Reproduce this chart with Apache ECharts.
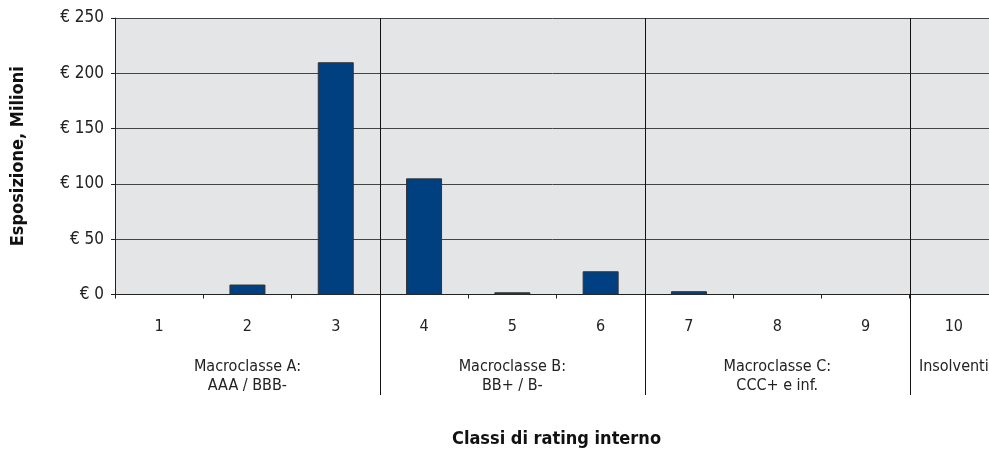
<!DOCTYPE html>
<html><head><meta charset="utf-8">
<script src="https://cdn.jsdelivr.net/npm/echarts@6/dist/echarts.min.js"></script>
<style>html,body{margin:0;padding:0;background:#fff}#c{width:989px;height:450px}</style>
</head><body><div id="c"></div>
<script>
const categories = ['1','2','3','4','5','6','7','8','9','10'];
const exposure = [0, 9, 210, 105, 2, 21, 3, 0, 0, 0];
const yTicks = [0, 50, 100, 150, 200, 250];
const groupNames = ['Macroclasse A:\nAAA / BBB-', 'Macroclasse B:\nBB+ / B-', 'Macroclasse C:\nCCC+ e inf.', 'Insolventi'];
const groupFirst = [1, 4, 7, 10];
const groupLast = [3, 6, 9, 10];

const FONT = '"Liberation Sans Narrow", "DejaVu Sans Condensed", "Liberation Sans", sans-serif';
const chart = echarts.init(document.getElementById('c'));

const dividers = groupLast.slice(0, -1).map(v => [v]);
const groupData = groupNames.map((n, i) => [(groupFirst[i] - 1 + groupLast[i]) / 2, n]);
const barData = exposure.map(v => v === 0 ? { value: v, itemStyle: { borderWidth: 0 } } : v);

chart.setOption({
  animation: false,
  grid: { left: 115, top: 18, width: 883, height: 276.5, show: true, backgroundColor: '#e4e5e7', borderWidth: 0, outerBoundsMode: 'none', containLabel: false },
  xAxis: [{
    type: 'category', data: categories,
    axisLine: { show: true, lineStyle: { color: '#222', width: 1 } },
    axisTick: { show: true, length: 4, lineStyle: { color: '#222' } },
    axisLabel: { color: '#222', fontFamily: FONT, fontSize: 16, margin: 24 },
    name: 'Classi di rating interno', nameLocation: 'middle', nameGap: 136,
    nameTextStyle: { fontFamily: FONT, fontWeight: 'bold', fontSize: 18, color: '#111' }
  }, {
    type: 'value', min: 0, max: 10, show: false
  }],
  yAxis: {
    type: 'value', min: yTicks[0], max: yTicks[yTicks.length - 1], interval: 50,
    axisLine: { show: true, lineStyle: { color: '#222' } },
    axisTick: { show: true, length: 4, lineStyle: { color: '#222' } },
    splitLine: { show: true, lineStyle: { color: '#444', width: 1 } },
    axisLabel: { formatter: v => '€ ' + v, color: '#222', fontFamily: FONT, fontSize: 17, margin: 11 },
    name: 'Esposizione, Milioni', nameLocation: 'middle', nameRotate: 90, nameGap: 88,
    nameTextStyle: { fontFamily: FONT, fontWeight: 'bold', fontSize: 18, color: '#111' }
  },
  series: [{
    type: 'bar', data: barData, barWidth: 36, xAxisIndex: 0,
    itemStyle: { color: '#003f80', borderColor: '#333', borderWidth: 1 }
  }, {
    type: 'custom', xAxisIndex: 1, clip: false, silent: true, z: 5,
    data: dividers,
    renderItem: (params, api) => {
      const top = api.coord([api.value(0), 250]);
      const bot = api.coord([api.value(0), 0]);
      const x = Math.round(top[0]) + 0.5;
      return { type: 'line', shape: { x1: x, y1: top[1], x2: x, y2: bot[1] + 100.5 },
        style: { stroke: '#111', lineWidth: 1 } };
    }
  }, {
    type: 'custom', xAxisIndex: 1, clip: false, silent: true, z: 5,
    data: groupData,
    encode: { x: 0 },
    renderItem: (params, api) => {
      const p = api.coord([api.value(0), 0]);
      return { type: 'text', x: p[0], y: p[1] + 63,
        style: { text: groupData[params.dataIndex][1], fill: '#222', font: '16px ' + FONT,
          align: 'center', verticalAlign: 'top', lineHeight: 19 } };
    }
  }]
});
</script></body></html>
